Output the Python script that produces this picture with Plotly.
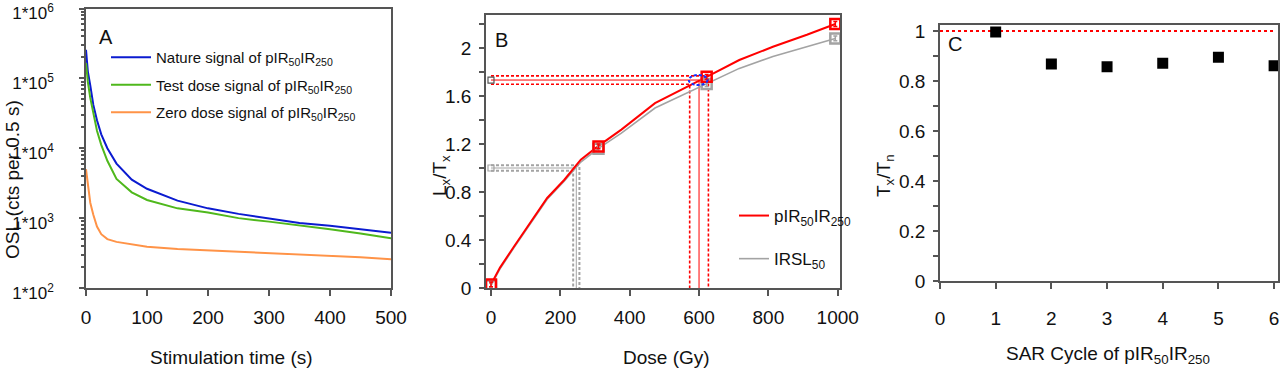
import plotly.graph_objects as go

# ---------------- Panel A: decay curves ----------------
time_s = [0, 3, 7, 12, 18, 25, 35, 50, 75, 100, 150, 200, 250, 300, 350, 400, 450, 500]
nature_signal = [257000, 126000, 79400, 41700, 25100, 15800, 10000, 6030, 3550, 2630,
                 1780, 1380, 1150, 1000, 850, 776, 692, 617]
test_dose_signal = [166000, 89100, 52500, 31600, 17800, 11200, 6610, 3630, 2340, 1820,
                    1380, 1200, 1000, 891, 794, 692, 603, 513]
zero_dose_signal = [5010, 2820, 1660, 1120, 759, 589, 501, 457, 417, 389,
                    363, 347, 331, 316, 302, 288, 275, 257]
a_ytick_vals = [1e2, 1e3, 1e4, 1e5, 1e6]
a_ytick_text = ["1*10<sup>2</sup>", "1*10<sup>3</sup>", "1*10<sup>4</sup>",
                "1*10<sup>5</sup>", "1*10<sup>6</sup>"]

# ---------------- Panel B: dose response ----------------
dose_curve = [0, 26, 65, 114, 162, 211, 259, 308, 376, 473, 570, 629, 716, 813, 911, 993]
pir_curve = [0.03, 0.17, 0.34, 0.55, 0.75, 0.90, 1.07, 1.18, 1.32, 1.54, 1.68, 1.77,
             1.90, 2.01, 2.11, 2.20]
irsl_curve = [0.02, 0.16, 0.33, 0.54, 0.74, 0.89, 1.05, 1.16, 1.29, 1.50, 1.63, 1.71,
              1.83, 1.93, 2.01, 2.08]
dose_points = [0, 310, 622, 993]
pir_points = [0.03, 1.18, 1.76, 2.20]
irsl_points = [0.02, 1.16, 1.70, 2.08]
pir_point_err = [0.02, 0.02, 0.02, 0.02]
irsl_point_err = [0.02, 0.02, 0.02, 0.02]
natural_dose = 0
pir_ln = 1.733
pir_ln_err = 0.035
pir_de = 600
pir_de_err = 27
irsl_ln = 1.0
irsl_ln_err = 0.022
irsl_de = 246
irsl_de_err = 9

# ---------------- Panel C: recycling ----------------
sar_cycle = [1, 2, 3, 4, 5, 6]
tx_tn = [0.996, 0.868, 0.857, 0.871, 0.895, 0.861]
ref_x = [0, 6]
ref_y = [1, 1]

FONT = "Liberation Sans, Arial, sans-serif"
W, H = 1280, 368


def px(x):
    return x / W


def py(y):
    return 1 - y / H


BLUE = "#0b1bd0"
GREEN = "#4fb81c"
ORANGE = "#ff9347"
RED = "#ff0000"
GRAY = "#a3a3a3"

fig = go.Figure()

# Panel A traces
fig.add_trace(go.Scatter(x=time_s, y=nature_signal, mode="lines",
                         line=dict(color=BLUE, width=2),
                         name="Nature signal of pIR<sub>50</sub>IR<sub>250</sub>",
                         legend="legend", legendgroup="a1", xaxis="x", yaxis="y"))
fig.add_trace(go.Scatter(x=time_s, y=test_dose_signal, mode="lines",
                         line=dict(color=GREEN, width=2),
                         name="Test dose signal of pIR<sub>50</sub>IR<sub>250</sub>",
                         legend="legend", legendgroup="a2", xaxis="x", yaxis="y"))
fig.add_trace(go.Scatter(x=time_s, y=zero_dose_signal, mode="lines",
                         line=dict(color=ORANGE, width=2),
                         name="Zero dose signal of pIR<sub>50</sub>IR<sub>250</sub>",
                         legend="legend", legendgroup="a3", xaxis="x", yaxis="y"))


def de_lines(ln, de, sign):
    lv = ln + sign[0]
    dv = de + sign[1]
    return [natural_dose, dv, dv], [lv, lv, 0]


# Panel B: interpolation lines (gray then red)
for color, ln, lerr, de, derr in [(GRAY, irsl_ln, irsl_ln_err, irsl_de, irsl_de_err),
                                  (RED, pir_ln, pir_ln_err, pir_de, pir_de_err)]:
    wd = 2.0 if color == GRAY else 1.6
    for s, dash, w in [((lerr, derr), "3px,2px", wd), ((-lerr, -derr), "3px,2px", wd),
                       ((0, 0), "solid", 1.0)]:
        xs, ys = de_lines(ln, de, s)
        fig.add_trace(go.Scatter(x=xs, y=ys, mode="lines",
                                 line=dict(color=color, width=w, dash=dash),
                                 showlegend=False, xaxis="x2", yaxis="y2",
                                 hoverinfo="skip"))
    fig.add_trace(go.Scatter(x=[natural_dose], y=[ln], mode="markers",
                             marker=dict(symbol="square-open", size=6,
                                         color="#555" if color == RED else GRAY,
                                         line=dict(width=1.2)),
                             showlegend=False, xaxis="x2", yaxis="y2"))

fig.add_trace(go.Scatter(x=dose_curve, y=irsl_curve, mode="lines",
                         line=dict(color=GRAY, width=1.6),
                         name="IRSL<sub>50</sub>", legend="legend2", legendgroup="b2",
                         legendrank=2, xaxis="x2", yaxis="y2"))
fig.add_trace(go.Scatter(x=dose_curve, y=pir_curve, mode="lines",
                         line=dict(color=RED, width=2),
                         name="pIR<sub>50</sub>IR<sub>250</sub>", legend="legend2",
                         legendgroup="b1", legendrank=1, xaxis="x2", yaxis="y2"))
fig.add_trace(go.Scatter(x=dose_points, y=irsl_points, mode="markers",
                         marker=dict(symbol="square-open", size=10, color=GRAY,
                                     line=dict(width=2.5)),
                         error_y=dict(type="data", array=irsl_point_err, color=GRAY,
                                      thickness=1.5, width=2),
                         showlegend=False, xaxis="x2", yaxis="y2"))
fig.add_trace(go.Scatter(x=dose_points, y=pir_points, mode="markers",
                         marker=dict(symbol="square-open", size=10, color=RED,
                                     line=dict(width=2.5)),
                         error_y=dict(type="data", array=pir_point_err, color=RED,
                                      thickness=1.5, width=2),
                         showlegend=False, xaxis="x2", yaxis="y2"))

# Panel C
fig.add_trace(go.Scatter(x=ref_x, y=ref_y, mode="lines",
                         line=dict(color=RED, width=2, dash="dot"),
                         showlegend=False, xaxis="x3", yaxis="y3"))
fig.add_trace(go.Scatter(x=sar_cycle, y=tx_tn, mode="markers",
                         marker=dict(symbol="square", size=11, color="black"),
                         showlegend=False, xaxis="x3", yaxis="y3"))

axis_common = dict(showgrid=False, zeroline=False, showline=True, linecolor="#555",
                   linewidth=1.5, mirror=True, ticks="outside", tickcolor="#555",
                   tickwidth=1.5, ticklen=6, ticklabeloverflow="allow", automargin=False,
                   tickfont=dict(family=FONT, size=19, color="#111"))

fig.update_layout(
    template="none",
    width=W, height=H, margin=dict(l=0, r=0, t=0, b=0, pad=0), autosize=False,
    paper_bgcolor="white", plot_bgcolor="white",
    font=dict(family=FONT, color="#111"),
    xaxis=dict(axis_common, domain=[px(86), px(391)], range=[0, 500], dtick=100,
               anchor="y", ticklabelstandoff=5),
    yaxis=dict(axis_common, domain=[py(288), py(8.5)], type="log", range=[2, 6],
               anchor="x", tickvals=a_ytick_vals, ticktext=a_ytick_text,
               tickfont=dict(family=FONT, size=17, color="#111"), ticklen=5,
               ticklabelstandoff=22, ticklabelshift=5,
               minor=dict(ticks="outside", ticklen=3, tickcolor="#555", dtick="D1")),
    xaxis2=dict(axis_common, domain=[px(486), px(840)], range=[-14.4, 1006.5],
                dtick=200, anchor="y2", ticklabelstandoff=5),
    yaxis2=dict(axis_common, domain=[py(288), py(15)], range=[0, 2.275], dtick=0.4,
                anchor="x2", ticklen=5, ticklabelstandoff=4,
                minor=dict(ticks="outside", ticklen=5, tickcolor="#555", dtick=0.2)),
    xaxis3=dict(axis_common, domain=[px(940), px(1278)], range=[0, 6.07], dtick=1,
                anchor="y3", ticklabelstandoff=13),
    yaxis3=dict(axis_common, domain=[py(281), py(25)], range=[0, 1.024], dtick=0.2,
                anchor="x3", ticklen=5, ticklabelstandoff=4,
                minor=dict(ticks="outside", ticklen=5, tickcolor="#555", dtick=0.1)),
    legend=dict(x=px(106), y=py(41), xanchor="left", yanchor="top",
                bgcolor="rgba(0,0,0,0)", font=dict(family=FONT, size=15, color="#111"),
                tracegroupgap=5, itemwidth=40, traceorder="grouped"),
    legend2=dict(x=px(734), y=py(198), xanchor="left", yanchor="top",
                 bgcolor="rgba(0,0,0,0)", font=dict(family=FONT, size=17, color="#111"),
                 tracegroupgap=18, itemwidth=30, traceorder="grouped"),
    shapes=[dict(type="circle", xref="x2", yref="y2",
                 x0=pir_de - pir_de_err * 1.1, x1=pir_de + pir_de_err * 0.9,
                 y0=pir_ln - pir_ln_err * 1.2, y1=pir_ln + pir_ln_err * 1.2,
                 line=dict(color="#1530ff", width=2, dash="3px,2px"))],
)

ann = []
for txt, x, y in [("A", 97, 37), ("B", 493, 40), ("C", 946, 44)]:
    ann.append(dict(text=txt, x=px(x), y=py(y), xref="paper", yref="paper",
                    xanchor="left", yanchor="middle", showarrow=False,
                    font=dict(family=FONT, size=20, color="#111")))
for txt, x, y in [("Stimulation time (s)", 231, 357), ("Dose (Gy)", 666, 357),
                  ("SAR Cycle of pIR<sub>50</sub>IR<sub>250</sub>", 1108, 355)]:
    ann.append(dict(text=txt, x=px(x), y=py(y), xref="paper", yref="paper",
                    xanchor="center", yanchor="middle", showarrow=False,
                    font=dict(family=FONT, size=19, color="#111")))
for txt, x, y in [("OSL (cts per 0.5 s)", 13, 180), ("L<sub>x</sub>/T<sub>x</sub>", 441, 176),
                  ("T<sub>x</sub>/T<sub>n</sub>", 885, 176)]:
    ann.append(dict(text=txt, x=px(x), y=py(y), xref="paper", yref="paper",
                    xanchor="center", yanchor="middle", showarrow=False, textangle=-90,
                    font=dict(family=FONT, size=19, color="#111")))
fig.update_layout(annotations=ann)

fig.write_html("out.html", config={"displayModeBar": False},
               post_script="document.body.style.margin='0';")
